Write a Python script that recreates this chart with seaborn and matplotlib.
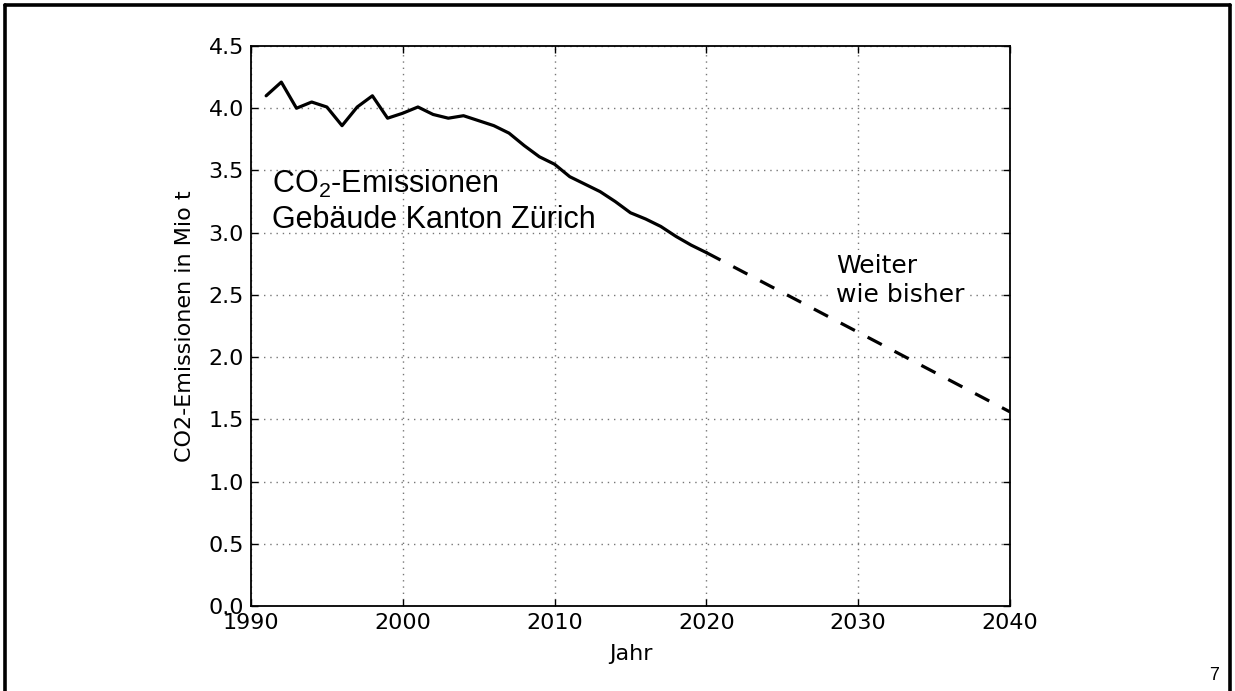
import numpy as np
import pandas as pd
import matplotlib
matplotlib.use("Agg")
import matplotlib.pyplot as plt
from matplotlib.lines import Line2D
import seaborn as sns

jahre = list(range(1991, 2021))
emissionen = [4.10, 4.21, 4.00, 4.05, 4.01, 3.86, 4.01, 4.10, 3.92, 3.96,
              4.01, 3.95, 3.92, 3.94, 3.90, 3.86, 3.80, 3.70, 3.61, 3.55,
              3.45, 3.39, 3.33, 3.25, 3.16, 3.11, 3.05, 2.97, 2.90, 2.84]

# Szenario "Weiter wie bisher"
prog_jahre = [2020, 2040]
prog_werte = [2.84, 1.56]

x_ticks = [1990, 2000, 2010, 2020, 2030, 2040]
y_ticks = [0.0, 0.5, 1.0, 1.5, 2.0, 2.5, 3.0, 3.5, 4.0, 4.5]

sns.set_theme(style="white", rc={
    "xtick.direction": "in", "ytick.direction": "in",
    "xtick.top": True, "ytick.right": True,
    "xtick.bottom": True, "ytick.left": True,
    "xtick.major.size": 5, "ytick.major.size": 5,
    "xtick.major.width": 1, "ytick.major.width": 1,
    "xtick.major.pad": 5, "ytick.major.pad": 5,
    "axes.edgecolor": "black", "axes.linewidth": 1.3,
    "xtick.color": "black", "ytick.color": "black",
    "text.color": "black", "axes.labelcolor": "black",
    "axes.grid": True, "grid.color": "#777777",
    "grid.linestyle": (0, (1, 3.5)), "grid.linewidth": 1.0,
})
plt.rcParams["font.family"] = ["DejaVu Sans"]
plt.rcParams["mathtext.fontset"] = "custom"
plt.rcParams["mathtext.rm"] = "Liberation Sans"
plt.rcParams["mathtext.it"] = "Liberation Sans"

df = pd.DataFrame({"Jahr": jahre, "CO2": emissionen})
df_prog = pd.DataFrame({"Jahr": prog_jahre, "CO2": prog_werte})

fig = plt.figure(figsize=(12.35, 6.91), dpi=100)
ax = fig.add_axes([0.2032, 0.123, 0.6146, 0.8104])

sns.lineplot(data=df, x="Jahr", y="CO2", color="black", lw=2.3, ax=ax)
sns.lineplot(data=df_prog, x="Jahr", y="CO2", color="black", lw=2.3,
             ax=ax, dashes=False, linestyle=(0, (5, 4.5)))

ax.set_xlim(1990, 2040)
ax.set_ylim(0, 4.5)
ax.set_xticks(x_ticks)
ax.set_yticks(y_ticks)
ax.set_yticklabels([f"{v:.1f}" for v in y_ticks])
ax.tick_params(labelsize=16)
ax.set_xlabel("Jahr", fontsize=16, labelpad=8)
ax.set_ylabel("CO2-Emissionen in Mio t", fontsize=16, labelpad=10)

ax.text(1991.4, 3.32, r"CO$_\mathrm{2}$-Emissionen", fontsize=22,
        family="Liberation Sans", va="baseline")
ax.text(1991.4, 3.04, "Gebäude Kanton Zürich", fontsize=22,
        family="Liberation Sans", va="baseline")

box = dict(facecolor="white", edgecolor="none", pad=3)
ax.text(2028.55, 2.675, "Weiter", fontsize=18, va="baseline", bbox=box)
ax.text(2028.55, 2.446, "wie bisher", fontsize=18, va="baseline", bbox=box)

# Folienrahmen und Seitenzahl
for xs, ys in [([0.004, 0.004], [0.0, 0.993]),
               ([0.004, 0.9957], [0.993, 0.993]),
               ([0.9957, 0.9957], [0.993, 0.0])]:
    fig.add_artist(Line2D(xs, ys, color="black", lw=2.6,
                          transform=fig.transFigure))
fig.text(0.987, 0.016, "7", fontsize=13, family="Liberation Sans",
         ha="right", va="baseline")

plt.savefig("out.png", dpi=100)
